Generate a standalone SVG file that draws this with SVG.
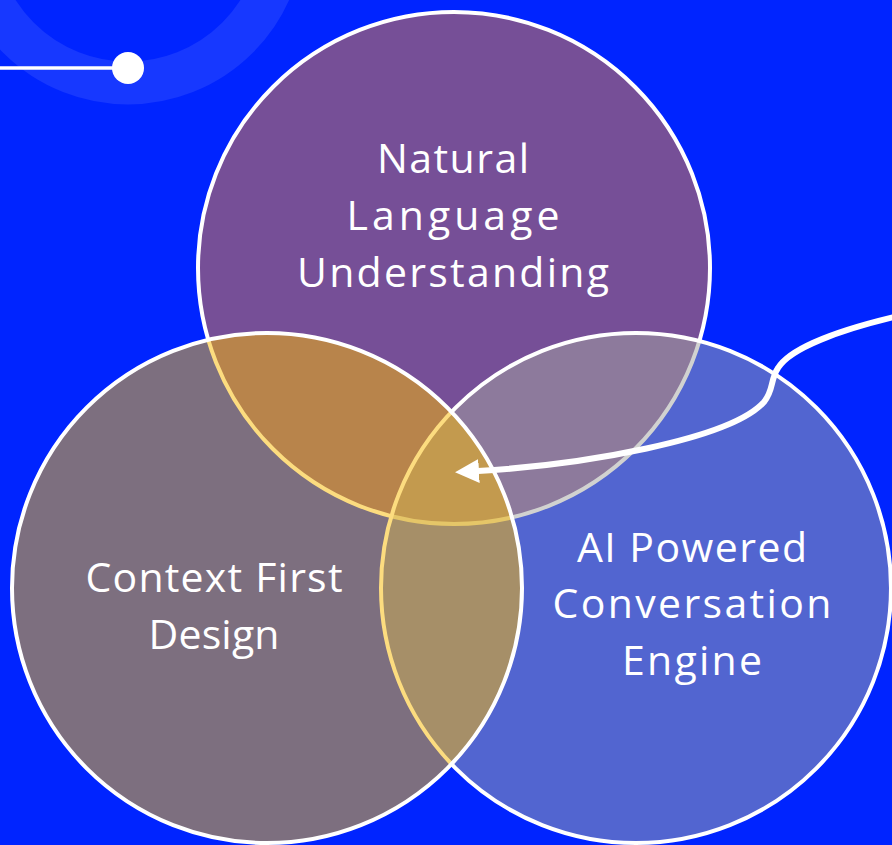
<svg xmlns="http://www.w3.org/2000/svg" width="892" height="845" viewBox="0 0 892 845">
  <defs>
    <style>
      .ring { fill: none; stroke: #1738FF; stroke-width: 43; }
      .disc { stroke: #FFFFFF; stroke-width: 4; }
      .label { fill: #FFFFFF; font-family: "Open Sans", "Liberation Sans", sans-serif; font-size: 41px; text-anchor: middle; }
      .flow { fill: none; stroke: #FFFFFF; stroke-width: 6; stroke-linecap: round; }
    </style>
    <marker id="head" viewBox="0 0 26 26" markerWidth="26" markerHeight="26" refX="1" refY="13" orient="auto" markerUnits="userSpaceOnUse">
      <path d="M0,1 L24,13 L0,25 Z" fill="#FFFFFF"/>
    </marker>
  </defs>

  <!-- background -->
  <rect x="0" y="0" width="892" height="845" fill="#0024FF"/>

  <!-- corner ornament: faint ring with a pin line -->
  <g id="ornament">
    <circle class="ring" cx="128" cy="-72" r="155"/>
    <line x1="0" y1="68" x2="120" y2="68" stroke="#FFFFFF" stroke-width="3.5"/>
    <circle cx="128" cy="68" r="16" fill="#FFFFFF"/>
  </g>

  <!-- translucent discs, stacked: top, right, left -->
  <g id="node-nlu">
    <circle class="disc" cx="454" cy="268" r="256" fill="#EC7A2F" fill-opacity="0.5"/>
  </g>
  <g id="node-engine">
    <circle class="disc" cx="636" cy="588" r="255" fill="#A4A6A1" fill-opacity="0.5"/>
  </g>
  <g id="node-context">
    <circle class="disc" cx="267" cy="588" r="255" fill="#FABA00" fill-opacity="0.5"/>
  </g>

  <!-- labels -->
  <g id="label-nlu">
    <text class="label" x="453" y="173" textLength="152">Natural</text>
    <text class="label" x="453" y="230" textLength="213">Language</text>
    <text class="label" x="453" y="287" textLength="312">Understanding</text>
  </g>
  <g id="label-context">
    <text class="label" x="214" y="592" textLength="257">Context First</text>
    <text class="label" x="214" y="649" textLength="131">Design</text>
  </g>
  <g id="label-engine">
    <text class="label" x="692" y="562" textLength="230">AI Powered</text>
    <text class="label" x="692" y="618" textLength="279">Conversation</text>
    <text class="label" x="692" y="675" textLength="140">Engine</text>
  </g>

  <!-- connector into the shared centre -->
  <g id="connectors">
    <path class="flow" d="M 894 317 C 840 330, 790 348, 778 368 C 770 380, 774 390, 764 402 C 730 440, 580 465, 478 471" marker-end="url(#head)"/>
  </g>
</svg>
